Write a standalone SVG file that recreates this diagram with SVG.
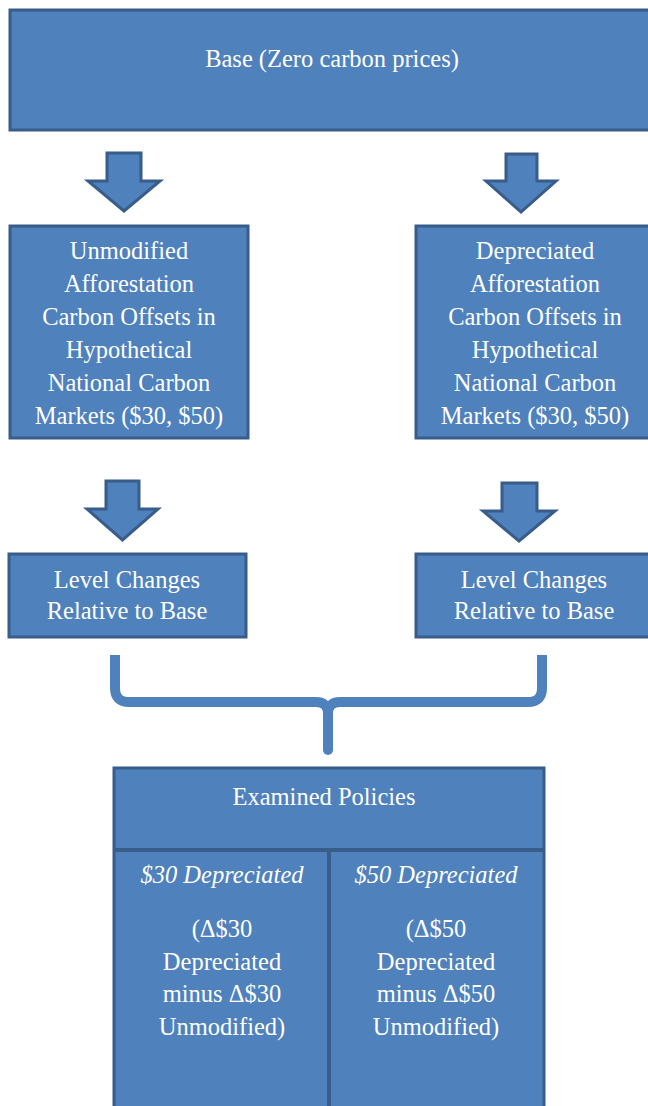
<svg xmlns="http://www.w3.org/2000/svg" width="648" height="1106" viewBox="0 0 648 1106">
<style>
.box{fill:#4F81BD;stroke:#385D8A;stroke-width:3}
.arr{fill:#4F81BD;stroke:#385D8A;stroke-width:3;stroke-linejoin:miter}
.t{font-family:'Liberation Serif','Times New Roman',serif;font-size:24.5px;fill:#FFFFFF;text-anchor:middle}
.i{font-style:italic}
.brace{fill:none;stroke:#4F81BD;stroke-width:10}
</style>
<rect width="648" height="1106" fill="#FFFFFF"/>
<g id="base">
<rect class="box" x="10" y="10" width="644" height="120"/>
<text class="t" x="332" y="67">Base (Zero carbon prices)</text>
</g>
<g id="connectors">
<path class="arr" d="M107,153 H141 V181 H160 L124,211 L88,181 H107 Z"/>
<path class="arr" d="M506,154 H537 V181 H556 L521,212 L486,181 H506 Z"/>
<path class="arr" d="M106,481 H139 V509 H158 L122.5,540 L87,509 H106 Z"/>
<path class="arr" d="M502,483 H537 V511 H555 L519,541 L483,511 H502 Z"/>
<path class="brace" stroke-linecap="butt" d="M115,655 V688 Q115,702 129,702 H316 Q328,702 328,714"/>
<path class="brace" stroke-linecap="butt" d="M542,655 V688 Q542,702 528,702 H340 Q328,702 328,714"/>
<path class="brace" stroke-linecap="round" d="M328,712 V750"/>
</g>
<g id="unmodified">
<rect class="box" x="10" y="226" width="238" height="212"/>
<text class="t" x="129" y="259">Unmodified</text>
<text class="t" x="129" y="292">Afforestation</text>
<text class="t" x="129" y="325">Carbon Offsets in</text>
<text class="t" x="129" y="358">Hypothetical</text>
<text class="t" x="129" y="391">National Carbon</text>
<text class="t" x="129" y="424">Markets ($30, $50)</text>
</g>
<g id="depreciated">
<rect class="box" x="416" y="226" width="238" height="212"/>
<text class="t" x="535" y="259">Depreciated</text>
<text class="t" x="535" y="292">Afforestation</text>
<text class="t" x="535" y="325">Carbon Offsets in</text>
<text class="t" x="535" y="358">Hypothetical</text>
<text class="t" x="535" y="391">National Carbon</text>
<text class="t" x="535" y="424">Markets ($30, $50)</text>
</g>
<g id="level-left">
<rect class="box" x="9" y="554" width="237" height="83"/>
<text class="t" x="127" y="588">Level Changes</text>
<text class="t" x="127" y="619">Relative to Base</text>
</g>
<g id="level-right">
<rect class="box" x="416" y="554" width="238" height="83"/>
<text class="t" x="534" y="588">Level Changes</text>
<text class="t" x="534" y="619">Relative to Base</text>
</g>
<g id="examined">
<rect class="box" x="114" y="768" width="430" height="345"/>
<line x1="114" y1="850" x2="544" y2="850" stroke="#385D8A" stroke-width="4"/>
<line x1="329" y1="850" x2="329" y2="1110" stroke="#385D8A" stroke-width="4"/>
<text class="t" x="324" y="805">Examined Policies</text>
<text class="t i" x="222" y="883">$30 Depreciated</text>
<text class="t" x="222" y="937">(Δ$30</text>
<text class="t" x="222" y="970">Depreciated</text>
<text class="t" x="222" y="1002">minus Δ$30</text>
<text class="t" x="222" y="1035">Unmodified)</text>
<text class="t i" x="436" y="883">$50 Depreciated</text>
<text class="t" x="436" y="937">(Δ$50</text>
<text class="t" x="436" y="970">Depreciated</text>
<text class="t" x="436" y="1002">minus Δ$50</text>
<text class="t" x="436" y="1035">Unmodified)</text>
</g>
</svg>
